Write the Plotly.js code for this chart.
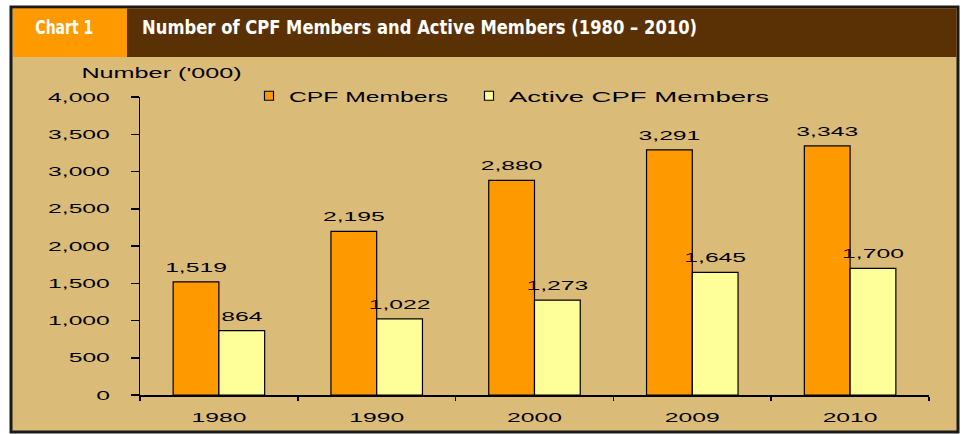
<!DOCTYPE html>
<html>
<head>
<meta charset="utf-8">
<script src="https://cdn.plot.ly/plotly-3.0.1.min.js"></script>
<style>
  html, body { margin: 0; padding: 0; background: #ffffff; }
  #chart { width: 963px; height: 434px; }
</style>
</head>
<body>
<div id="chart"></div>
<script>
// ---- data ----
const years = ['1980', '1990', '2000', '2009', '2010'];
const cpfMembers = [1519, 2195, 2880, 3291, 3343];
const activeMembers = [864, 1022, 1273, 1645, 1700];
const seriesNames = ['CPF Members', 'Active CPF Members'];
const chartLabel = 'Chart 1';
const chartTitle = 'Number of CPF Members and Active Members (1980 \u2013 2010)';
const yTitle = "Number ('000)";

// ---- geometry helpers (pixel -> paper) ----
const W = 963, H = 434;
const M = { l: 140, r: 34, t: 97, b: 39 };
const PW = W - M.l - M.r, PH = H - M.t - M.b;
const px = p => (p - M.l) / PW;
const py = p => (H - M.b - p) / PH;

const TAN = '#DABC78';
const BROWN = '#5A3104';
const ORANGE = '#FF9900';
const YELLOW = '#FFFF99';
const fmt = v => v.toLocaleString('en-US');
const FONT = 'Liberation Sans, Arial, sans-serif';
const HEADFONT = 'DejaVu Sans Condensed, Roboto, sans-serif';

const traces = [
  {
    type: 'bar', name: seriesNames[0], x: years, y: cpfMembers, legendwidth: 175,
    marker: { color: ORANGE, line: { color: '#000', width: 1.2 } },
    text: cpfMembers.map(fmt), textposition: 'outside', cliponaxis: false, constraintext: 'none',
    textfont: { family: FONT, size: 13, color: '#000' }
  },
  {
    type: 'bar', name: seriesNames[1], x: years, y: activeMembers, legendwidth: 280,
    marker: { color: YELLOW, line: { color: '#000', width: 1.2 } },
    text: activeMembers.map(fmt), textposition: 'outside', cliponaxis: false, constraintext: 'none',
    textfont: { family: FONT, size: 13, color: '#000' }
  }
];

const layout = {
  width: W, height: H,
  margin: M,
  paper_bgcolor: '#ffffff',
  plot_bgcolor: 'rgba(0,0,0,0)',
  barmode: 'group',
  bargap: 0.42,
  bargroupgap: 0,
  showlegend: true,
  legend: {
    orientation: 'h', x: px(249), xanchor: 'left', y: py(96), yanchor: 'middle',
    bgcolor: 'rgba(0,0,0,0)', font: { family: FONT, size: 15, color: '#000' },
    itemwidth: 30, traceorder: 'normal'
  },
  xaxis: {
    type: 'category',
    showline: true, linecolor: '#000', linewidth: 1.5,
    ticks: 'outside', tickson: 'boundaries', ticklen: 4, tickcolor: '#000', tickwidth: 1.5,
    ticklabelstandoff: 10,
    tickfont: { family: FONT, size: 13, color: '#000' },
    showgrid: false, zeroline: false, fixedrange: true
  },
  yaxis: {
    range: [0, 4000], dtick: 500, tickformat: ',d',
    showline: true, linecolor: '#000', linewidth: 1.5,
    ticks: 'outside', ticklen: 8, tickcolor: '#000', tickwidth: 1.5,
    ticklabelstandoff: 18,
    tickfont: { family: FONT, size: 13, color: '#000' },
    showgrid: false, zeroline: false, fixedrange: true
  },
  shapes: [
    { type: 'rect', xref: 'paper', yref: 'paper', layer: 'below',
      x0: px(11), x1: px(958), y0: py(7), y1: py(432),
      fillcolor: TAN, line: { color: '#1a1a1a', width: 3 } },
    { type: 'rect', xref: 'paper', yref: 'paper', layer: 'below',
      x0: px(13), x1: px(956.5), y0: py(8.5), y1: py(57),
      fillcolor: BROWN, line: { width: 0 } },
    { type: 'rect', xref: 'paper', yref: 'paper', layer: 'below',
      x0: px(13), x1: px(127), y0: py(8.5), y1: py(57),
      fillcolor: ORANGE, line: { width: 0 } }
  ],
  annotations: [
    { text: '<b>' + chartLabel + '</b>', xref: 'paper', yref: 'paper',
      x: px(64), y: py(27), xanchor: 'center', yanchor: 'middle', showarrow: false,
      font: { family: HEADFONT, size: 19, color: '#ffffff' } },
    { text: '<b>' + chartTitle + '</b>', xref: 'paper', yref: 'paper',
      x: px(419.5), y: py(27), xanchor: 'center', yanchor: 'middle', showarrow: false,
      font: { family: HEADFONT, size: 19, color: '#ffffff' } },
    { text: yTitle, xref: 'paper', yref: 'paper',
      x: px(161), y: py(73), xanchor: 'center', yanchor: 'middle', showarrow: false,
      font: { family: FONT, size: 14, color: '#000' } }
  ]
};

// the reference's lettering is horizontally stretched; reproduce with textLength
function stretchText(el, k, target) {
  if (el.dataset.stretched) return;
  const w = el.getComputedTextLength();
  if (!(w > 0)) return;
  el.setAttribute('lengthAdjust', 'spacingAndGlyphs');
  el.setAttribute('textLength', target ? target : w * k);
  el.dataset.stretched = '1';
}

function finishLook() {
  const root = document.getElementById('chart');
  root.querySelectorAll('.ytick text, .xtick text').forEach(t => stretchText(t, 1.9));
  root.querySelectorAll('.bartext').forEach(t => {
    if (!t.dataset.stretched) t.setAttribute('dy', '-4');
    stretchText(t, 1.9);
  });
  root.querySelectorAll('.legendtext').forEach(t => {
    const s = t.textContent;
    if (s === seriesNames[0]) stretchText(t, 1, 159);
    else if (s === seriesNames[1]) stretchText(t, 1, 260);
    else stretchText(t, 1.7);
  });
  root.querySelectorAll('.annotation-text').forEach(t => {
    const s = t.textContent;
    if (s === yTitle) stretchText(t, 1.8);
    else if (s === chartLabel) stretchText(t, 1, 58);
    else if (s === chartTitle) stretchText(t, 1, 555);
  });
  // smaller legend swatches, like the reference
  root.querySelectorAll('.legendpoints path').forEach(p => {
    if (!p.dataset.small) { p.setAttribute('d', 'M4.5,4.5H-4.5V-4.5H4.5Z'); p.dataset.small = '1'; }
  });
  root.querySelectorAll('.scrollbox').forEach(g => g.removeAttribute('clip-path'));
}

const gd = document.getElementById('chart');
Plotly.newPlot(gd, traces, layout, { displayModeBar: false, staticPlot: true }).then(() => {
  finishLook();
  gd.on('plotly_afterplot', finishLook);
  setTimeout(finishLook, 50);
});
</script>
</body>
</html>
